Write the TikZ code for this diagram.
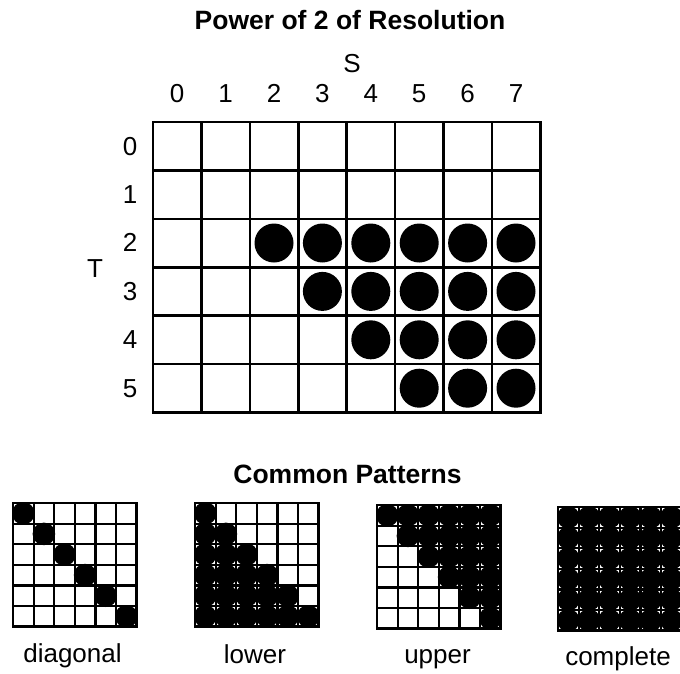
\documentclass[tikz,border=0pt]{standalone}
\usepackage{fontspec}
\setmainfont{Liberation Sans}

% one small 6x6 pattern: #1,#2 = top-left corner, #3 = test on row \r and column \c
\newcommand\patterngrid[3]{%
  \foreach \r in {0,...,5}{%
    \foreach \c in {0,...,5}{%
      \pgfmathtruncatemacro\cellon{#3}%
      \ifnum\cellon=1
        \fill[black] ({#1+(\c+0.5)*\smallcell},{#2+(\r+0.5)*\smallcell}) circle[radius=11.3pt];
      \fi
    }%
  }%
  \foreach \i in {1,...,5}{%
    \draw[thinline] ({#1+\i*\smallcell},#2) -- ({#1+\i*\smallcell},{#2+6*\smallcell});
    \draw[thinline] (#1,{#2+\i*\smallcell}) -- ({#1+6*\smallcell},{#2+\i*\smallcell});
  }%
  \draw[frameline] (#1,#2) rectangle ({#1+6*\smallcell},{#2+6*\smallcell});
}

\begin{document}
\begin{tikzpicture}[x=1pt,y=-1pt,
  lbl/.style={font=\fontsize{26}{30}\selectfont, anchor=base, inner sep=0pt},
  ttl/.style={font=\fontsize{26.5}{30}\selectfont\bfseries, anchor=base, inner sep=0pt},
  mainline/.style={line width=2.6pt, line cap=rect},
  thinline/.style={line width=2.2pt, line cap=rect},
  frameline/.style={line width=2.8pt, line join=miter}]
\clip (0,0) rectangle (680,673);
\fill[white] (0,0) rectangle (680,673);

\def\mx{153}
\def\my{122}
\def\mc{48.4}
\def\smallcell{20.6}

% titles and axis labels
\node[ttl] (title) at (350,29) {Power of 2 of Resolution};
\node[lbl] (axisS) at (352,72) {S};
\node[lbl] (axisT) at (95,277) {T};
\foreach \s in {0,...,7}
  \node[lbl] (col\s) at ({\mx+(\s+0.5)*\mc},102) {\s};
\foreach \t in {0,...,5}
  \node[lbl] (row\t) at (130,{155+\t*\mc}) {\t};

% filled cells of the resolution table
\foreach \t in {2,...,5}
  \foreach \s in {\t,...,7}
    \fill[black] ({\mx+(\s+0.5)*\mc},{\my+(\t+0.5)*\mc}) circle[radius=19.5pt];

% table grid
\foreach \i in {0,...,8}
  \draw[mainline] ({\mx+\i*\mc},\my) -- ({\mx+\i*\mc},{\my+6*\mc});
\foreach \j in {0,...,6}
  \draw[mainline] (\mx,{\my+\j*\mc}) -- ({\mx+8*\mc},{\my+\j*\mc});

% the four common patterns
\node[ttl] (patterns) at (347.5,483) {Common Patterns};

\patterngrid{13}{503}{\c==\r}
\patterngrid{195}{503}{\c<=\r}
\patterngrid{377}{505}{\c>=\r}
\patterngrid{558}{507}{1}

\node[lbl] (diag) at (72.5,662) {diagonal};
\node[lbl] (lower) at (255,663) {lower};
\node[lbl] (upper) at (437.5,663) {upper};
\node[lbl] (complete) at (618,665) {complete};
\end{tikzpicture}
\end{document}
